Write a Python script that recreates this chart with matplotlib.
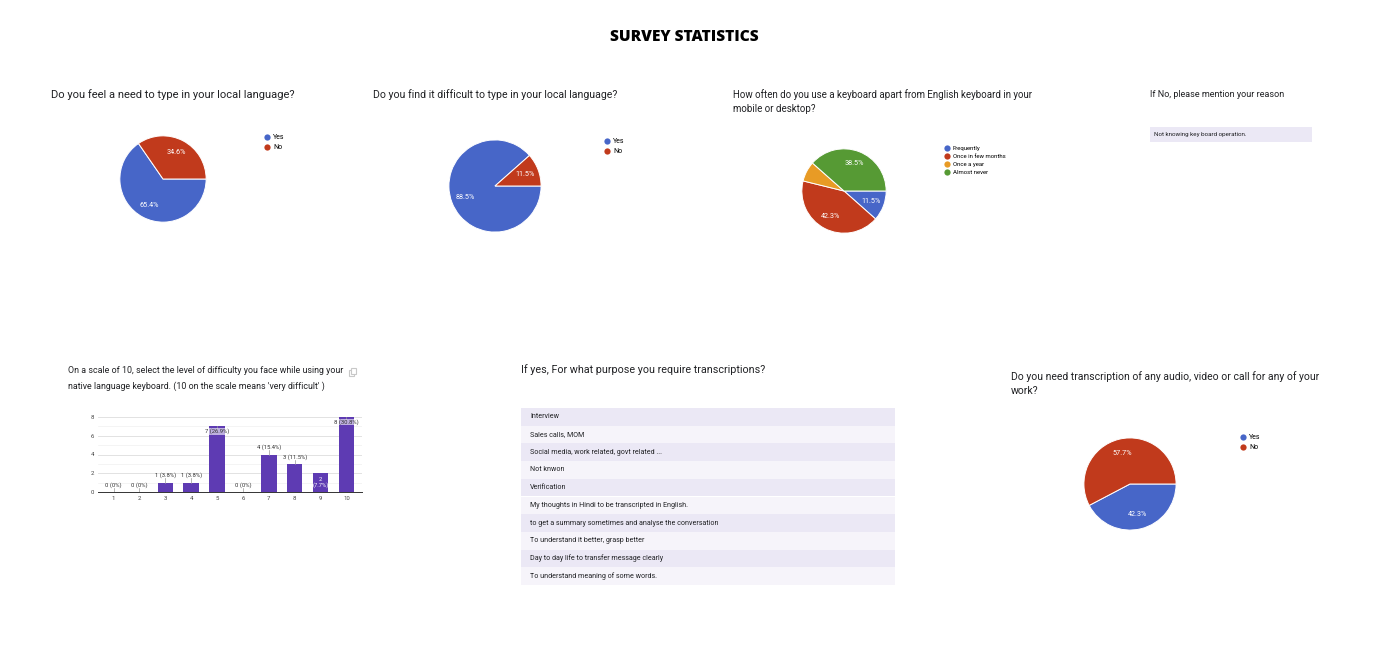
import numpy as np
import matplotlib.pyplot as plt
from matplotlib.lines import Line2D
from matplotlib.patches import Rectangle

plt.rcParams['font.family'] = ['Roboto', 'DejaVu Sans']

# --- data ---
q1_labels = ['Yes', 'No']
q1_counts = [17, 9]
q2_labels = ['Yes', 'No']
q2_counts = [23, 3]
q3_labels = ['Frequently', 'Once in few months', 'Once a year', 'Almost never']
q3_counts = [3, 11, 2, 10]
q4_labels = ['Yes', 'No']
q4_counts = [11, 15]

scale_levels = ['1', '2', '3', '4', '5', '6', '7', '8', '9', '10']
scale_counts = [0, 0, 1, 1, 7, 0, 4, 3, 2, 8]

reason_answers = ['Not knowing key board operation.']
purpose_answers = [
    'Interview',
    'Sales calls, MOM',
    'Social media, work related, govt related ...',
    'Not knwon',
    'Verification',
    'My thoughts in Hindi to be transcripted in English.',
    'to get a summary sometimes and analyse the conversation',
    'To understand it better, grasp better',
    'Day to day life to transfer message clearly',
    'To understand meaning of some words.',
]

BLUE, RED, ORANGE, GREEN = '#4766c8', '#c13a1c', '#e89b25', '#569a34'
PURPLE = '#5e3bb3'

W, H = 1400, 670
fig = plt.figure(figsize=(14, 6.7), dpi=100)


def fx(px):
    return px / W


def fy(py):
    return 1 - py / H


def question(x, y, text, size=7.3, spacing=1.45):
    fig.text(fx(x), fy(y), text, fontsize=size, color='#202124',
             va='top', ha='left', linespacing=spacing)


def pie_panel(cx, cy, r, counts, labels, colors, lx, ly, legend_size=5):
    ax = fig.add_axes([fx(cx - r), fy(cy + r), 2 * r / W, 2 * r / H])
    wedges, _, autotexts = ax.pie(
        counts, colors=colors, startangle=0, counterclock=False,
        autopct=lambda p: f'{p:.1f}%' if p > 10 else '',
        pctdistance=0.69,
        wedgeprops=dict(edgecolor='white', linewidth=0.7),
        textprops=dict(color='white', fontsize=5.2))
    ax.set_xlim(-1.02, 1.02)
    ax.set_ylim(-1.02, 1.02)
    ax.set_aspect('equal')
    handles = [Line2D([], [], marker='o', linestyle='none', markersize=4.5,
                      markerfacecolor=w.get_facecolor(), markeredgecolor='none')
               for w in wedges]
    ax.legend(handles, labels, loc='upper left',
              bbox_to_anchor=(fx(lx), fy(ly)), bbox_transform=fig.transFigure,
              frameon=False, fontsize=legend_size, handlelength=0.8,
              handletextpad=0.5, labelspacing=0.45, borderpad=0,
              borderaxespad=0)
    return ax


def answer_list(x0, x1, y0, row_h, answers, size=5.1):
    n = len(answers)
    ax = fig.add_axes([fx(x0), fy(y0 + n * row_h), (x1 - x0) / W, n * row_h / H])
    shades = ['#ebe8f5' if i % 2 == 0 else '#f6f4fa' for i in range(n)]
    ax.barh(np.arange(n), 1, height=1, left=0, color=shades)
    for i, a in enumerate(answers):
        ax.text(0.025, i, a, fontsize=size, color='#202124', va='center')
    ax.set_xlim(0, 1)
    ax.set_ylim(n - 0.5, -0.5)
    ax.axis('off')


# title
fig.text(fx(684), fy(37), 'SURVEY STATISTICS', fontsize=11.2, fontweight='heavy',
         ha='center', va='center', family=['Open Sans', 'DejaVu Sans'])

# row 1
question(51, 89, 'Do you feel a need to type in your local language?', size=8.0)
pie_panel(163, 179, 44, q1_counts, q1_labels, [BLUE, RED], 264, 134)

question(373, 89, 'Do you find it difficult to type in your local language?', size=7.6)
pie_panel(495, 186, 47, q2_counts, q2_labels, [BLUE, RED], 604, 138)

question(733, 89, 'How often do you use a keyboard apart from English keyboard in your\nmobile or desktop?', size=7.0)
pie_panel(844, 191, 43, q3_counts, q3_labels, [BLUE, RED, ORANGE, GREEN],
          945, 146, legend_size=4.3)

question(1150, 90, 'If No, please mention your reason', size=6.5)
answer_list(1150, 1312, 127, 14.5, reason_answers, size=4.5)

# row 2: bar chart
question(68, 366, 'On a scale of 10, select the level of difficulty you face while using your\nnative language keyboard. (10 on the scale means \'very difficult\' )',
         size=6.4, spacing=1.8)
fig.add_artist(Rectangle((fx(349), fy(376)), 5 / W, 6 / H, fill=False,
                         edgecolor='#c8c8c8', linewidth=0.8))
fig.add_artist(Rectangle((fx(351), fy(374)), 5 / W, 6 / H, facecolor='white',
                         edgecolor='#c8c8c8', linewidth=0.8))

bx = fig.add_axes([fx(98), fy(492), 264 / W, 75 / H])
x = np.arange(len(scale_levels))
bx.bar(x, scale_counts, width=0.6, color=PURPLE, zorder=2)
total = sum(scale_counts)
for i, v in enumerate(scale_counts):
    pct = 100 * v / total
    lab = f'{v} ({pct:.0f}%)' if v == 0 else f'{v} ({pct:.1f}%)'
    if i == 8:
        bx.text(i, v / 2, f'{v}\n({pct:.1f}%)', ha='center', va='center',
                fontsize=4.2, color='white', zorder=4, linespacing=1.0)
    elif v >= 7:
        bx.text(i, v - 0.25, lab, ha='center', va='top', fontsize=4.2,
                color='#333333', zorder=4,
                bbox=dict(boxstyle='square,pad=0.05', facecolor='white',
                          edgecolor='none', alpha=0.6))
        bx.plot([i, i], [v - 0.25, v], color='#999999', lw=0.5, zorder=3)
    else:
        bx.text(i, v + 0.45, lab, ha='center', va='bottom', fontsize=4.2,
                color='#333333', zorder=4)
        bx.plot([i, i], [v, v + 0.45], color='#999999', lw=0.5, zorder=3)
bx.set_xlim(-0.6, len(scale_levels) - 0.4)
bx.set_ylim(0, 8)
bx.set_yticks([0, 2, 4, 6, 8])
bx.set_yticks([1, 3, 5, 7], minor=True)
bx.set_xticks(x)
bx.set_xticklabels(scale_levels)
bx.tick_params(axis='both', labelsize=4.3, colors='#444444', length=0, pad=3)
bx.tick_params(axis='y', which='minor', length=0)
bx.grid(axis='y', which='major', color='#dddddd', linewidth=0.6, zorder=0)
bx.grid(axis='y', which='minor', color='#f0f0f0', linewidth=0.5, zorder=0)
for s in ['top', 'right', 'left']:
    bx.spines[s].set_visible(False)
bx.spines['bottom'].set_color('#333333')
bx.spines['bottom'].set_linewidth(0.7)

# row 2: purposes
question(521, 364, 'If yes, For what purpose you require transcriptions?', size=7.75)
answer_list(521, 895, 408, 17.7, purpose_answers)

# row 2: pie
question(1011, 371, 'Do you need transcription of any audio, video or call for any of your\nwork?', size=7.5)
pie_panel(1130, 484, 47, q4_counts, q4_labels, [BLUE, RED], 1240, 434)

fig.savefig('out.png', dpi=100, facecolor='white')
